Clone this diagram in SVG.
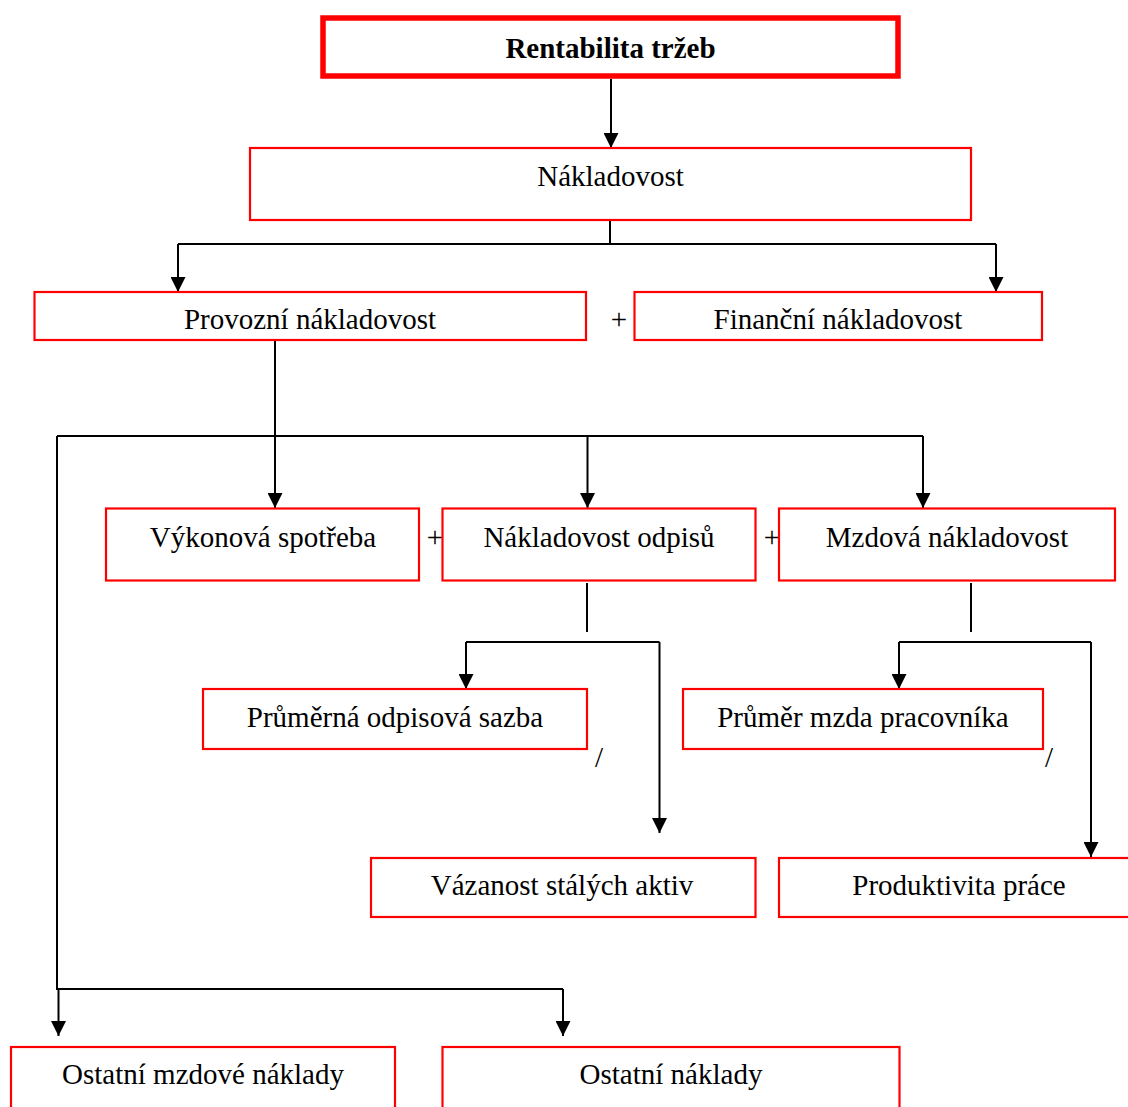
<svg xmlns="http://www.w3.org/2000/svg" width="1128" height="1107" viewBox="0 0 1128 1107">
<style>
.box{fill:#fff;stroke:#ff0000;stroke-width:2.2}
.top{fill:#fff;stroke:#ff0000;stroke-width:5.5}
.t{font-family:"Liberation Serif","Times New Roman",serif;font-size:29px;fill:#000;text-anchor:middle}
.b{font-weight:bold}
.c{fill:none;stroke:#000;stroke-width:2}
</style>
<defs>
<marker id="ah" markerUnits="userSpaceOnUse" markerWidth="15" markerHeight="15" refX="15" refY="7.5" orient="auto" viewBox="0 0 15 15">
<path d="M0,0 L15,7.5 L0,15 Z" fill="#000"/>
</marker>
</defs>
<rect width="1128" height="1107" fill="#fff"/>
<g id="connectors">
<path class="c" d="M611,79 V148" marker-end="url(#ah)"/>
<path class="c" d="M610,220 V244 M178,244 H996"/>
<path class="c" d="M178,244 V292" marker-end="url(#ah)"/>
<path class="c" d="M996,244 V292" marker-end="url(#ah)"/>
<path class="c" d="M275,340 V508" marker-end="url(#ah)"/>
<path class="c" d="M57,436 H923 M57,436 V989 H563"/>
<path class="c" d="M587.5,436 V508" marker-end="url(#ah)"/>
<path class="c" d="M923,436 V508" marker-end="url(#ah)"/>
<path class="c" d="M58.5,989 V1036" marker-end="url(#ah)"/>
<path class="c" d="M563,989 V1036" marker-end="url(#ah)"/>
<path class="c" d="M587,583 V632 M466,642 H659.5"/>
<path class="c" d="M466,642 V689" marker-end="url(#ah)"/>
<path class="c" d="M659.5,642 V833" marker-end="url(#ah)"/>
<path class="c" d="M971,583 V632 M899,642 H1091"/>
<path class="c" d="M899,642 V689" marker-end="url(#ah)"/>
<path class="c" d="M1091,642 V857" marker-end="url(#ah)"/>
</g>
<g id="n-rentabilita"><rect class="top" x="323" y="18" width="575" height="58"/><text class="t b" x="610.5" y="58">Rentabilita tržeb</text></g>
<g id="n-nakladovost"><rect class="box" x="250" y="148" width="721" height="72"/><text class="t" x="610.5" y="186">Nákladovost</text></g>
<g id="n-provozni"><rect class="box" x="34.5" y="292" width="551.5" height="48"/><text class="t" x="310" y="329">Provozní nákladovost</text></g>
<g id="op-plus1"><text class="t" x="619" y="329">+</text></g>
<g id="n-financni"><rect class="box" x="634.5" y="292" width="407.5" height="48"/><text class="t" x="838" y="329">Finanční nákladovost</text></g>
<g id="n-vykonova"><rect class="box" x="106" y="508.5" width="313" height="72"/><text class="t" x="263" y="547">Výkonová spotřeba</text></g>
<g id="op-plus2"><text class="t" x="435" y="547">+</text></g>
<g id="n-odpisu"><rect class="box" x="442.5" y="508.5" width="313" height="72"/><text class="t" x="599" y="547">Nákladovost odpisů</text></g>
<g id="op-plus3"><text class="t" x="772" y="547">+</text></g>
<g id="n-mzdova"><rect class="box" x="779" y="508.5" width="336" height="72"/><text class="t" x="947" y="547">Mzdová nákladovost</text></g>
<g id="n-sazba"><rect class="box" x="203" y="689" width="384" height="60"/><text class="t" x="395" y="727">Průměrná odpisová sazba</text></g>
<g id="op-div1"><text class="t" x="599" y="767">/</text></g>
<g id="n-mzda"><rect class="box" x="683" y="689" width="360" height="60"/><text class="t" x="863" y="727">Průměr mzda pracovníka</text></g>
<g id="op-div2"><text class="t" x="1049" y="767">/</text></g>
<g id="n-vazanost"><rect class="box" x="371" y="858" width="384.5" height="59"/><text class="t" x="562" y="895">Vázanost stálých aktiv</text></g>
<g id="n-produktivita"><rect class="box" x="779" y="858" width="360" height="59"/><text class="t" x="959" y="895">Produktivita práce</text></g>
<g id="n-ostatni-mzdove"><rect class="box" x="11" y="1047" width="384" height="80"/><text class="t" x="203" y="1084">Ostatní mzdové náklady</text></g>
<g id="n-ostatni"><rect class="box" x="442.5" y="1047" width="457" height="80"/><text class="t" x="671" y="1084">Ostatní náklady</text></g>
</svg>
